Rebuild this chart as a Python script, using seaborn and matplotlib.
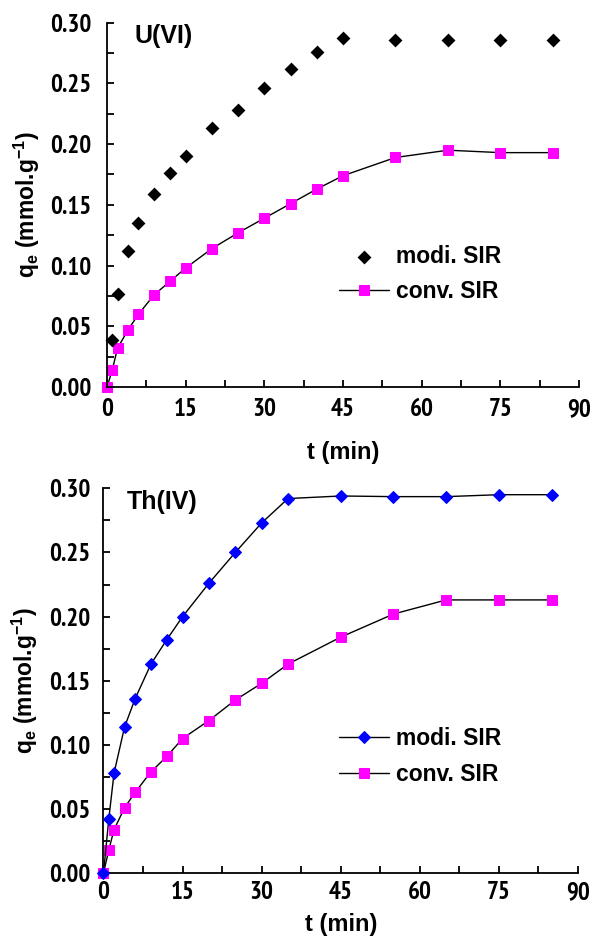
import matplotlib
matplotlib.use("Agg")
import matplotlib.pyplot as plt
from matplotlib.ticker import MultipleLocator, FormatStrFormatter
from matplotlib import font_manager as fm
import seaborn as sns
import pandas as pd

# ---- data ----
t_u_modi = [1, 2, 4, 6, 9, 12, 15, 20, 25, 30, 35, 40, 45, 55, 65, 75, 85]
q_u_modi = [0.039, 0.077, 0.112, 0.135, 0.159, 0.176, 0.190, 0.213, 0.228, 0.246,
            0.262, 0.276, 0.287, 0.286, 0.286, 0.286, 0.286]
t_u_conv = [0, 1, 2, 4, 6, 9, 12, 15, 20, 25, 30, 35, 40, 45, 55, 65, 75, 85]
q_u_conv = [0.0, 0.014, 0.032, 0.047, 0.060, 0.076, 0.087, 0.098, 0.114, 0.127,
            0.139, 0.151, 0.163, 0.174, 0.189, 0.195, 0.193, 0.193]

t_th_modi = [0, 1, 2, 4, 6, 9, 12, 15, 20, 25, 30, 35, 45, 55, 65, 75, 85]
q_th_modi = [0.0, 0.042, 0.078, 0.114, 0.136, 0.163, 0.182, 0.200, 0.226, 0.250,
             0.273, 0.292, 0.294, 0.2935, 0.2935, 0.295, 0.295]
t_th_conv = [0, 1, 2, 4, 6, 9, 12, 15, 20, 25, 30, 35, 45, 55, 65, 75, 85]
q_th_conv = [0.0, 0.018, 0.034, 0.051, 0.063, 0.079, 0.091, 0.105, 0.119, 0.135,
             0.148, 0.163, 0.184, 0.202, 0.213, 0.213, 0.213]

x_ticks = [0, 15, 30, 45, 60, 75, 90]
y_ticks = [0.00, 0.05, 0.10, 0.15, 0.20, 0.25, 0.30]
panel_labels = ["U(VI)", "Th(IV)"]
series_names = ["modi. SIR", "conv. SIR"]

sns.set_theme(style="white")
plt.rcParams['font.family'] = ['Liberation Sans', 'DejaVu Sans']
plt.rcParams['font.weight'] = 'bold'
plt.rcParams['mathtext.default'] = 'regular'

# look for a narrow/condensed BOLD font file for tick labels
tick_fp = None
for key in ('narrow', 'condensed'):
    for f in fm.fontManager.ttflist:
        fn = f.fname.lower()
        if key in fn and 'bold' in fn and 'italic' not in fn and 'oblique' not in fn:
            tick_fp = fm.FontProperties(fname=f.fname, size=18 if key == 'narrow' else 15)
            break
    if tick_fp is not None:
        break
if tick_fp is None:
    tick_fp = fm.FontProperties(family='Liberation Sans', weight='bold', size=13.5)

fig = plt.figure(figsize=(5.9, 9.41), dpi=100)
ax1 = fig.add_axes([0.1814, 0.5887, 0.800, 0.3872])
ax2 = fig.add_axes([0.1754, 0.0720, 0.8043, 0.4091])

PINK = '#FF00FF'
BLUE = '#0000FF'

# top panel
d_um = pd.DataFrame({'t': t_u_modi, 'q': q_u_modi})
d_uc = pd.DataFrame({'t': t_u_conv, 'q': q_u_conv})
sns.scatterplot(data=d_um, x='t', y='q', ax=ax1, marker='D', s=50, color='black',
                edgecolor='black', linewidth=0, label=series_names[0], zorder=3)
sns.lineplot(data=d_uc, x='t', y='q', ax=ax1, color='black', linewidth=1.0,
             marker='s', markersize=7.2, markerfacecolor=PINK, markeredgecolor=PINK,
             label=series_names[1], zorder=2)

# bottom panel
d_tm = pd.DataFrame({'t': t_th_modi, 'q': q_th_modi})
d_tc = pd.DataFrame({'t': t_th_conv, 'q': q_th_conv})
sns.lineplot(data=d_tm, x='t', y='q', ax=ax2, color='black', linewidth=1.0,
             marker='D', markersize=6.5, markerfacecolor=BLUE, markeredgecolor=BLUE,
             label=series_names[0], zorder=3)
sns.lineplot(data=d_tc, x='t', y='q', ax=ax2, color='black', linewidth=1.0,
             marker='s', markersize=7.2, markerfacecolor=PINK, markeredgecolor=PINK,
             label=series_names[1], zorder=2)

settings = [
    # ax, label, label x, xpad, ypad, xlabelpad
    (ax1, panel_labels[0], 0.058, 8.0, 11.0, 14.0),
    (ax2, panel_labels[1], 0.050, 5.8, 9.7, 6.5),
]
for ax, lab, lx, xpad, ypad, xlp in settings:
    ax.set_xlim(0, 90)
    ax.set_ylim(0, 0.30)
    ax.set_xticks(x_ticks)
    ax.set_yticks(y_ticks)
    ax.xaxis.set_minor_locator(MultipleLocator(7.5))
    ax.yaxis.set_minor_locator(MultipleLocator(0.025))
    ax.yaxis.set_major_formatter(FormatStrFormatter('%.2f'))
    ax.tick_params(axis='both', which='major', direction='in', length=5, width=1.3,
                   color='black', labelcolor='black')
    ax.tick_params(axis='both', which='minor', direction='in', length=5, width=1.3,
                   color='black')
    ax.tick_params(axis='x', which='major', pad=xpad)
    ax.tick_params(axis='y', which='major', pad=ypad)
    ax.tick_params(axis='both', which='both', left=True, bottom=True)
    for s in ['top', 'right']:
        ax.spines[s].set_visible(False)
    for s in ['left', 'bottom']:
        ax.spines[s].set_color('black')
        ax.spines[s].set_linewidth(1.3)
    ax.set_xlabel('t (min)', fontsize=17, fontweight='bold', labelpad=xlp, color='black')
    ax.set_ylabel(r'q$_{e}$ (mmol.g$^{-1}$)', fontsize=16.5, fontweight='bold',
                  labelpad=6, color='black')
    ax.set_facecolor('white')
    ax.text(lx, 0.995, lab, transform=ax.transAxes, fontsize=18, fontweight='bold',
            va='top', ha='left', color='black')
    ax.margins(0)
    for c in ax.collections + ax.lines:
        c.set_clip_on(False)

leg1 = ax1.legend(loc='center left', bbox_to_anchor=(0.447, 0.31), frameon=False,
                  prop={'weight': 'bold', 'size': 16.5}, handlelength=2.2,
                  handletextpad=0.3, labelspacing=0.55, labelcolor='black')
leg2 = ax2.legend(loc='center left', bbox_to_anchor=(0.453, 0.303), frameon=False,
                  prop={'weight': 'bold', 'size': 16.5}, handlelength=2.2,
                  handletextpad=0.3, labelspacing=0.55, labelcolor='black')

fig.canvas.draw()
for ax in (ax1, ax2):
    for lbl in ax.get_xticklabels() + ax.get_yticklabels():
        lbl.set_fontproperties(tick_fp)

fig.savefig('out.png', dpi=100, facecolor='white')
